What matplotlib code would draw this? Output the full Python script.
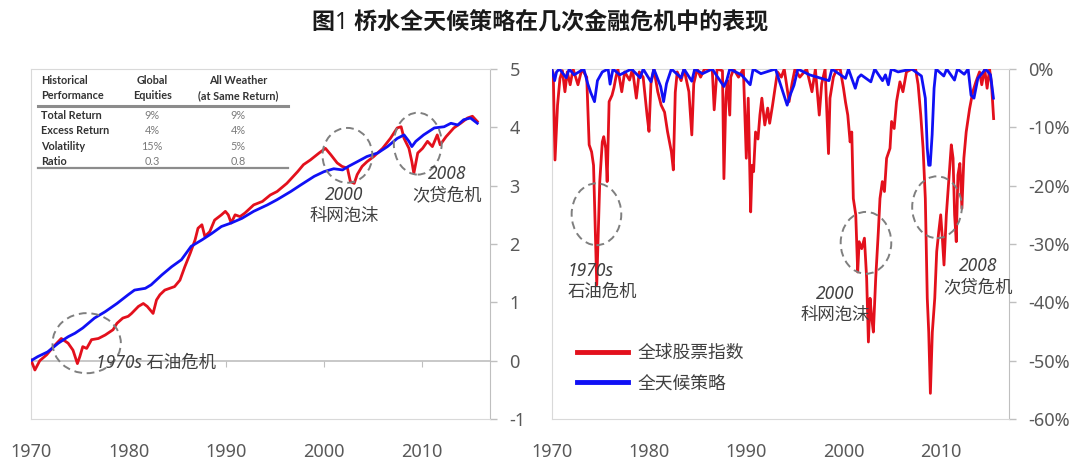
import matplotlib
matplotlib.use("Agg")
import matplotlib.pyplot as plt
from matplotlib.patches import Ellipse
from matplotlib.lines import Line2D

plt.rcParams['font.family'] = ['Noto Sans', 'Noto Sans CJK SC', 'DejaVu Sans']
plt.rcParams['axes.unicode_minus'] = False

# ---------------------------
# data
# left: cumulative excess return (log scale units)
eq_cum = [(1970.0, 0.01), (1970.4, -0.16), (1970.9, 0.0), (1971.6, 0.10), (1972.3, 0.24),
          (1973.1, 0.38), (1973.8, 0.30), (1974.3, 0.18), (1974.75, -0.05), (1975.0, 0.07),
          (1975.3, 0.24), (1975.7, 0.21), (1976.2, 0.36), (1976.9, 0.38), (1977.6, 0.44),
          (1978.4, 0.53), (1978.8, 0.64), (1979.4, 0.73), (1979.95, 0.76), (1980.3, 0.81),
          (1981.0, 0.93), (1981.5, 0.98), (1981.9, 0.93), (1982.5, 0.81), (1982.85, 1.04),
          (1983.2, 1.13), (1983.7, 1.21), (1984.2, 1.24), (1984.7, 1.27), (1985.25, 1.38),
          (1985.75, 1.61), (1986.3, 1.84), (1986.8, 2.07), (1987.1, 2.27), (1987.5, 2.33),
          (1987.8, 2.13), (1988.3, 2.21), (1988.8, 2.41), (1989.5, 2.50), (1989.9, 2.56),
          (1990.2, 2.50), (1990.5, 2.36), (1990.9, 2.50), (1991.4, 2.47), (1991.9, 2.53),
          (1992.8, 2.67), (1993.7, 2.73), (1994.5, 2.84), (1995.2, 2.90), (1996.2, 3.04),
          (1997.3, 3.24), (1997.9, 3.36), (1998.6, 3.44), (1999.5, 3.56), (2000.15, 3.64),
          (2000.7, 3.53), (2001.35, 3.39), (2001.85, 3.33), (2002.4, 3.30), (2002.7, 3.07),
          (2003.1, 3.04), (2003.4, 3.19), (2003.9, 3.33), (2004.4, 3.41), (2005.1, 3.50),
          (2006.0, 3.64), (2006.8, 3.81), (2007.5, 3.99), (2007.9, 4.01), (2008.2, 3.81),
          (2008.7, 3.64), (2009.0, 3.41), (2009.2, 3.21), (2009.6, 3.56), (2010.1, 3.64),
          (2010.6, 3.76), (2011.1, 3.67), (2011.6, 3.87), (2011.9, 3.70), (2012.5, 3.84),
          (2013.3, 3.99), (2014.0, 4.07), (2014.7, 4.16), (2015.2, 4.19), (2015.7, 4.10)]

aw_cum = [(1970.0, 0.0), (1970.7, 0.07), (1971.7, 0.15), (1972.8, 0.30), (1973.8, 0.41),
          (1974.5, 0.47), (1975.3, 0.56), (1976.5, 0.73), (1977.6, 0.84), (1978.8, 0.98),
          (1979.95, 1.13), (1980.6, 1.21), (1981.7, 1.24), (1982.3, 1.30), (1983.4, 1.47),
          (1984.4, 1.61), (1985.4, 1.73), (1986.4, 1.96), (1987.5, 2.07), (1988.5, 2.18),
          (1989.5, 2.30), (1990.5, 2.36), (1991.6, 2.44), (1992.8, 2.56), (1994.2, 2.67),
          (1995.2, 2.76), (1996.6, 2.90), (1997.6, 3.01), (1999.0, 3.16), (2000.0, 3.24),
          (2001.0, 3.29), (2001.9, 3.27), (2002.5, 3.33), (2003.4, 3.41), (2004.4, 3.50),
          (2005.5, 3.56), (2006.5, 3.67), (2007.5, 3.81), (2008.2, 3.87), (2008.7, 3.76),
          (2009.0, 3.67), (2009.4, 3.76), (2010.2, 3.87), (2011.3, 3.99), (2012.3, 4.01),
          (2013.0, 4.07), (2013.7, 4.04), (2014.3, 4.13), (2015.0, 4.16), (2015.7, 4.07)]

# right: drawdown in %
eq_dd = [(1970.0, 0), (1970.16, -0.7), (1970.34, -15.6), (1970.6, -6.2), (1970.85, -1.6),
         (1971.1, -0.3), (1971.36, -3.9), (1971.6, -0.5), (1971.9, -2.7), (1972.2, 0),
         (1972.7, -2.7), (1973.1, 0), (1973.6, -1.4), (1973.85, -13.0), (1974.1, -14.2),
         (1974.3, -16.5), (1974.63, -37.0), (1974.94, -19.3), (1975.2, -12.5), (1975.35, -11.6),
         (1975.55, -13.6), (1975.7, -19.3), (1975.9, -5.6), (1976.2, -4.5), (1976.4, -3.2),
         (1976.6, -1.4), (1976.8, 0), (1977.2, -3.9), (1977.5, -0.5), (1978.0, -1.9),
         (1978.3, 0), (1978.7, -5.0), (1979.0, -0.5), (1979.4, -1.4), (1979.8, -7.9),
         (1980.0, -10.7), (1980.2, -2.5), (1980.5, 0), (1980.9, -3.9), (1981.25, -6.2),
         (1981.6, -7.4), (1981.9, -10.7), (1982.1, -12.5), (1982.3, -14.2), (1982.5, -17.3),
         (1982.7, -4.0), (1982.9, -0.5), (1983.3, -2.0), (1983.6, 0), (1984.1, -3.9),
         (1984.4, -11.3), (1984.6, -2.5), (1984.95, 0), (1985.3, -1.4), (1985.7, 0),
         (1986.5, 0), (1986.7, -7.0), (1987.0, 0), (1987.55, -0.3), (1987.7, -18.8),
         (1987.9, -5.0), (1988.05, -1.9), (1988.3, -7.9), (1988.4, -1.4), (1988.7, 0),
         (1989.2, -1.4), (1989.7, 0), (1990.0, -15.3), (1990.2, -5.0), (1990.45, -24.5),
         (1990.6, -16.5), (1990.75, -17.6), (1990.95, -10.8), (1991.2, -12.0), (1991.4, -7.9),
         (1991.6, -5.0), (1991.9, -9.6), (1992.2, -6.7), (1992.4, -9.3), (1992.7, -6.2),
         (1992.9, -3.9), (1993.2, -0.5), (1993.6, -1.4), (1993.9, 0), (1994.4, -5.6),
         (1994.7, -2.5), (1995.0, 0), (1995.5, -1.4), (1996.2, 0), (1996.75, -3.9),
         (1997.1, 0), (1997.5, -7.9), (1997.75, -2.5), (1998.1, 0), (1998.45, -14.5),
         (1998.6, -5.0), (1998.95, -1.4), (1999.3, 0), (1999.65, 0), (1999.99, -3.3),
         (2000.2, -5.7), (2000.43, -7.9), (2000.67, -12.5), (2000.84, -10.8), (2001.0, -22.2),
         (2001.25, -25.0), (2001.45, -34.8), (2001.6, -29.6), (2001.86, -30.8), (2002.14, -29.0),
         (2002.37, -35.9), (2002.55, -46.8), (2002.72, -39.3), (2002.9, -42.8), (2003.06, -45.1),
         (2003.3, -35.9), (2003.57, -27.9), (2003.74, -22.2), (2003.98, -19.3), (2004.2, -21.0),
         (2004.42, -15.3), (2004.77, -13.6), (2004.93, -9.0), (2005.2, -10.2), (2005.44, -5.6),
         (2005.79, -2.2), (2006.1, -3.9), (2006.46, -0.5), (2007.04, 0), (2007.4, 0),
         (2007.66, -2.7), (2007.93, -7.9), (2008.17, -13.6), (2008.4, -22.2), (2008.6, -39.3),
         (2008.75, -45.1), (2008.92, -55.6), (2009.12, -45.1), (2009.37, -39.3), (2009.57, -31.3),
         (2009.78, -27.9), (2009.98, -25.0), (2010.15, -29.0), (2010.32, -33.6), (2010.56, -25.0),
         (2010.8, -19.3), (2011.07, -13.0), (2011.25, -15.3), (2011.41, -25.0), (2011.58, -29.6),
         (2011.75, -18.2), (2011.95, -16.2), (2012.16, -23.9), (2012.36, -15.3), (2012.6, -10.8),
         (2012.95, -6.8), (2013.28, -3.9), (2013.6, -2.2), (2013.97, -0.5), (2014.2, -2.7),
         (2014.5, 0), (2014.75, -3.3), (2015.0, 0), (2015.2, -2.5), (2015.42, -8.5)]

aw_dd = [(1970.0, 0), (1970.3, -2.0), (1970.5, -0.5), (1970.8, 0), (1971.5, -1.5),
         (1971.8, 0), (1972.3, -1.0), (1973.3, 0), (1973.7, -2.5), (1974.0, -4.0),
         (1974.4, -5.6), (1974.7, -2.0), (1975.2, -0.5), (1975.8, 0), (1976.0, -2.6),
         (1976.3, 0), (1977.0, -1.0), (1978.2, 0), (1979.1, -1.5), (1979.4, 0),
         (1980.2, -2.2), (1980.5, 0), (1981.2, -3.0), (1981.5, -5.6), (1981.8, -2.5),
         (1982.3, 0), (1983.3, -1.5), (1983.6, 0), (1984.4, -2.1), (1984.7, 0),
         (1985.5, -0.8), (1986.5, 0), (1987.7, -3.0), (1988.0, -1.9), (1988.3, 0),
         (1989.5, -1.0), (1990.4, -2.7), (1990.7, 0), (1991.5, -0.8), (1993.0, 0),
         (1994.2, -6.2), (1994.5, -4.5), (1994.9, -2.8), (1995.3, 0), (1996.5, -1.0),
         (1998.5, -2.0), (1998.8, 0), (2000.2, -1.6), (2000.5, 0), (2001.2, -3.3),
         (2001.5, -1.5), (2001.8, -1.0), (2002.8, -2.2), (2003.2, 0), (2004.0, -2.0),
         (2004.3, -1.0), (2004.6, -2.7), (2004.9, 0), (2005.6, -0.5), (2007.0, 0),
         (2008.0, -1.2), (2008.4, -5.0), (2008.6, -13.6), (2008.75, -16.5), (2008.9, -16.5),
         (2009.1, -11.3), (2009.3, -3.3), (2009.5, 0), (2010.3, -1.2), (2010.6, 0),
         (2011.4, -1.9), (2011.7, 0), (2012.4, -0.9), (2012.8, 0), (2013.1, -4.5),
         (2013.4, -5.0), (2013.8, -1.6), (2014.6, 0), (2015.1, -1.0), (2015.4, -5.0)]

# table in the left panel
tbl_rows = ["Total Return", "Excess Return", "Volatility", "Ratio"]
tbl_eq = ["9%", "4%", "15%", "0.3"]
tbl_aw = ["9%", "4%", "5%", "0.8"]

years = [1970, 1980, 1990, 2000, 2010]
series_names = ["全球股票指数", "全天候策略"]

RED = "#e3101c"
BLUE = "#1010f5"
TXT = "#595959"
LIGHT = "#d9d9d9"
MID = "#bfbfbf"

# ---------------------------
fig = plt.figure(figsize=(10.8, 4.63), dpi=100)
fig.text(0.5, 1 - 22 / 463, "图1 桥水全天候策略在几次金融危机中的表现",
         ha="center", va="center", fontsize=16.6, fontweight="bold", color="#1a1a1a")

ax1 = fig.add_axes([31 / 1080, 44 / 463, 459 / 1080, 350 / 463])
ax2 = fig.add_axes([551.7 / 1080, 44 / 463, 457.3 / 1080, 350 / 463])


def style_axis(ax):
    ax.set_xlim(1970, 2017)
    ax.set_xticks(years)
    ax.yaxis.tick_right()
    ax.tick_params(axis="x", length=0, pad=17, labelsize=13, labelcolor=TXT)
    ax.tick_params(axis="y", length=5, width=1, color=MID, pad=9, labelsize=13, labelcolor=TXT)
    for s in ["left", "top", "bottom"]:
        ax.spines[s].set_color(LIGHT)
    ax.spines["right"].set_color(MID)


def split(pairs):
    return [p[0] for p in pairs], [p[1] for p in pairs]


# ---- left panel
style_axis(ax1)
ax1.set_ylim(-1, 5)
ax1.set_yticks(range(-1, 6))
ax1.axhline(0, color=MID, lw=1.2, zorder=1)
sec = ax1.secondary_xaxis(1 / 6)
sec.set_xticks(years)
sec.xaxis.set_ticks_position("bottom")
sec.tick_params(axis="x", direction="out", length=4, color=MID, labelbottom=False, labeltop=False)
for s in sec.spines.values():
    s.set_visible(False)

x, y = split(eq_cum)
ax1.plot(x, y, color=RED, lw=2, zorder=3)
x, y = split(aw_cum)
ax1.plot(x, y, color=BLUE, lw=2, zorder=4)

# circles + notes
for cx, cy, w, h in [(1975.7, 0.30, 7.0, 1.03), (2002.4, 3.52, 5.1, 0.94), (2009.6, 3.72, 4.9, 1.06)]:
    ax1.add_patch(Ellipse((cx, cy), w, h, fill=False, ls=(0, (4, 2.5)), lw=1.4,
                          ec="#7f7f7f", zorder=5))
note = dict(fontsize=12.5, style="italic", color="#404040", zorder=6)
ax1.text(1976.7, -0.04, "1970s 石油危机", ha="left", va="center", **note)
ax1.text(2002.1, 2.66, "2000\n科网泡沫", ha="center", va="center", linespacing=1.2, **note)
ax1.text(2012.6, 3.02, "2008\n次贷危机", ha="center", va="center", linespacing=1.2, **note)

# performance table
tf = dict(transform=ax1.transAxes, fontsize=7.8, family=["Lato", "DejaVu Sans"], zorder=6)
ax1.text(0.021, 0.945, "Historical\nPerformance", ha="left", va="center",
         fontweight="bold", color="#333333", linespacing=1.4, **tf)
ax1.text(0.264, 0.945, "Global\nEquities", ha="center", va="center",
         fontweight="bold", color="#333333", linespacing=1.4, **tf)
ax1.text(0.451, 0.945, "All Weather\n(at Same Return)", ha="center", va="center",
         fontweight="bold", color="#333333", linespacing=1.4, **tf)
row_y = [0.866, 0.823, 0.78, 0.736]
for ry, name, a, b in zip(row_y, tbl_rows, tbl_eq, tbl_aw):
    ax1.text(0.021, ry, name, ha="left", va="center", fontweight="bold", color="#333333", **tf)
    ax1.text(0.264, ry, a, ha="center", va="center", color="#7a7a7a", **tf)
    ax1.text(0.451, ry, b, ha="center", va="center", color="#7a7a7a", **tf)
ax1.plot([0.015, 0.56], [0.893, 0.893], transform=ax1.transAxes, color="#8c8c8c", lw=2.2, zorder=6)
ax1.plot([0.015, 0.56], [0.716, 0.716], transform=ax1.transAxes, color="#8c8c8c", lw=1.6, zorder=6)

# ---- right panel
style_axis(ax2)
ax2.set_ylim(-60, 0)
ax2.set_yticks(range(-60, 1, 10))
ax2.set_yticklabels([f"{v}%" for v in range(-60, 1, 10)])

x, y = split(eq_dd)
ax2.plot(x, y, color=RED, lw=2, zorder=3)
x, y = split(aw_dd)
ax2.plot(x, y, color=BLUE, lw=2, zorder=4)

for cx, cy, w, h in [(1974.6, -24.9, 5.1, 10.6), (2002.3, -29.8, 5.2, 10.6), (2009.6, -23.7, 5.1, 10.6)]:
    ax2.add_patch(Ellipse((cx, cy), w, h, fill=False, ls=(0, (4, 2.5)), lw=1.4,
                          ec="#7f7f7f", zorder=5))
ax2.text(1971.6, -36.4, "1970s\n石油危机", ha="left", va="center", linespacing=1.2, **note)
ax2.text(1999.1, -40.4, "2000\n科网泡沫", ha="center", va="center", linespacing=1.2, **note)
ax2.text(2013.8, -35.6, "2008\n次贷危机", ha="center", va="center", linespacing=1.2, **note)

handles = [Line2D([], [], color=RED, lw=3.5), Line2D([], [], color=BLUE, lw=3.5)]
ax2.legend(handles, series_names, loc="lower left", bbox_to_anchor=(0.02, 0.03),
           frameon=False, fontsize=12.8, labelcolor="#404040", handlelength=2.9,
           handletextpad=0.5, labelspacing=0.7)

fig.savefig("out.png", dpi=100)
